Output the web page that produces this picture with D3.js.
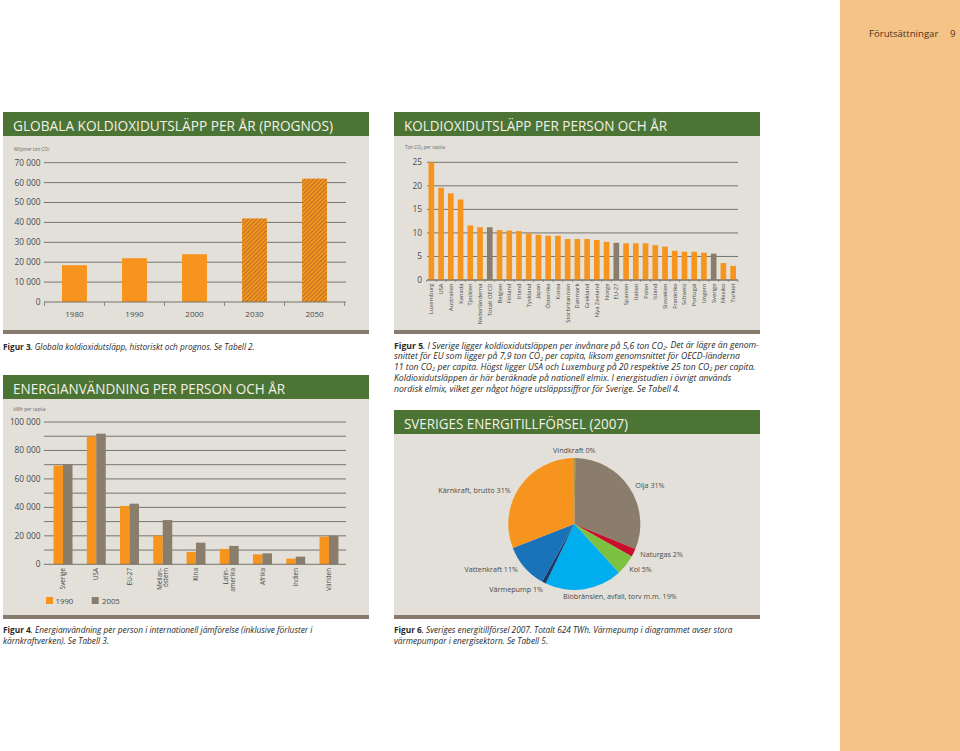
<!DOCTYPE html>
<html><head><meta charset="utf-8">
<script src="https://cdn.jsdelivr.net/npm/d3@7"></script>
<style>body{margin:0;background:#fff}svg{display:block}</style>
</head><body>
<script>
// ---------- DATA ----------
const years = ["1980", "1990", "2000", "2030", "2050"];
const globalEmissions = [18500, 22000, 24000, 42000, 62000];
const prognosYears = ["2030", "2050"];
const globalTicks = [0, 10000, 20000, 30000, 40000, 50000, 60000, 70000];

const countries = ["Luxemburg","USA","Australien","Kanada","Tjeckien","Nederländerna","Totalt OECD","Belgien","Finland","Irland","Tyskland","Japan","Österrike","Korea","Storbritannien","Danmark","Grekland","Nya Zeeland","Norge","EU-27","Spanien","Italien","Polen","Island","Slovakien","Frankrike","Schweiz","Portugal","Ungern","Sverige","Mexiko","Turkiet"];
const perCapita = [25, 19.6, 18.4, 17.1, 11.6, 11.2, 11.2, 10.6, 10.5, 10.4, 9.9, 9.6, 9.4, 9.4, 8.7, 8.7, 8.7, 8.5, 8.1, 7.9, 7.8, 7.8, 7.8, 7.4, 7.1, 6.2, 6.0, 6.0, 5.8, 5.6, 3.6, 3.0];
const highlighted = ["Totalt OECD", "EU-27", "Sverige"];
const perCapitaTicks = [0, 5, 10, 15, 20, 25];

const regions = ["Sverige","USA","EU-27","Mellan-|östern","Kina","Latin-|amerika","Afrika","Indien","Världen"];
const energy1990 = [69300, 89700, 41000, 20100, 8700, 10800, 7000, 4000, 19400];
const energy2005 = [70300, 91800, 42600, 31100, 15200, 12900, 7700, 5400, 20100];
const energySeries = ["1990", "2005"];
const energyTicks = [0, 20000, 40000, 60000, 80000, 100000];
const energyGrid = [10000, 20000, 30000, 40000, 50000, 60000, 70000, 80000, 90000, 100000];

const sources = ["Vindkraft","Olja","Naturgas","Kol","Biobränslen, avfall, torv m.m.","Värmepump","Vattenkraft","Kärnkraft, brutto"];
const shares = [0.3, 31, 2, 5, 19, 1, 11, 31];
const shareLabels = ["0%","31%","2%","5%","19%","1%","11%","31%"];

// ---------- STYLE ----------
const FONT = "'Open Sans', 'Noto Sans', sans-serif";
const GREEN = "#4b7435", PANEL = "#e3e0d9", BAR = "#867b6d";
const ORANGE = "#f7941d", TAUPE = "#8b7d6c", GRID = "#76746c", TXT = "#4a4a4a";
const fmt = d => d3.format(",")(d).replace(/,/g, " ");

const svg = d3.select("body").append("svg").attr("width", 960).attr("height", 751)
  .attr("font-family", FONT);
svg.append("rect").attr("x", 840).attr("y", 0).attr("width", 120).attr("height", 751).attr("fill", "#f6c386");
svg.append("text").attr("x", 869).attr("y", 37).attr("font-size", 9.6).attr("fill", "#4a3320").text("Förutsättningar");
svg.append("text").attr("x", 950).attr("y", 37).attr("font-size", 9.6).attr("fill", "#4a3320").text("9");

const defs = svg.append("defs");
const pat = defs.append("pattern").attr("id", "hatch").attr("patternUnits", "userSpaceOnUse")
  .attr("width", 3).attr("height", 3).attr("patternTransform", "rotate(45)");
pat.append("rect").attr("width", 3).attr("height", 3).attr("fill", ORANGE);
pat.append("line").attr("x1", 0.5).attr("y1", 0).attr("x2", 0.5).attr("y2", 3).attr("stroke", "#7a5530").attr("stroke-width", 0.55);

function panel(x, y, w, bottom, title, titleW) {
  svg.append("rect").attr("x", x).attr("y", y).attr("width", w).attr("height", 24).attr("fill", GREEN);
  svg.append("rect").attr("x", x).attr("y", y + 24).attr("width", w).attr("height", bottom - y - 24).attr("fill", PANEL);
  svg.append("rect").attr("x", x).attr("y", bottom).attr("width", w).attr("height", 4).attr("fill", BAR);
  svg.append("text").attr("x", x + 10).attr("y", y + 18.5).attr("font-size", 14.5).attr("fill", "#f4f1e8")
    .attr("textLength", titleW).attr("lengthAdjust", "spacingAndGlyphs").text(title);
}

function richText(t, str, first) {
  let rest = str;
  if (first) {
    const m = str.match(/^(Figur \d)/);
    if (m) { t.append("tspan").attr("font-weight", "bold").text(m[1]); rest = str.slice(m[1].length); }
  }
  const style = first !== null ? "italic" : "normal";
  const parts = rest.split("₂");
  parts.forEach((p, i) => {
    const sp = t.append("tspan").attr("font-style", style).text(p);
    if (i > 0) sp.attr("dy", "-0.15em");
    if (i < parts.length - 1) t.append("tspan").attr("font-size", "65%").attr("dy", "0.23em")
      .attr("font-style", style).text("2");
  });
}

function caption(x, y0, lh, lines, targetW) {
  const texts = lines.map((line, i) => {
    const t = svg.append("text").attr("x", x).attr("y", y0 + i * lh).attr("font-size", 8).attr("fill", "#2a2a2a");
    richText(t, line, i === 0);
    return t;
  });
  const w = texts[0].node().getComputedTextLength();
  const fs = 8 * targetW / w;
  texts.forEach(t => t.attr("font-size", fs));
}

// ---------- PANEL 1 ----------
panel(3, 112, 366, 330, "GLOBALA KOLDIOXIDUTSLÄPP PER ÅR (PROGNOS)", 320);
{
  const y = d3.scaleLinear().domain([0, 70000]).range([302, 162.7]);
  const x = d3.scaleBand().domain(years).range([44, 345]).paddingInner(0.585).paddingOuter(0.3);
  const g = svg.append("g");
  g.selectAll("line.grid").data(globalTicks.slice(1)).join("line")
    .attr("x1", 44).attr("x2", 346).attr("y1", d => y(d)).attr("y2", d => y(d))
    .attr("stroke", GRID).attr("stroke-width", 1);
  g.selectAll("text.yl").data(globalTicks).join("text")
    .attr("x", 40.5).attr("y", d => y(d)).attr("dy", "0.35em").attr("text-anchor", "end")
    .attr("font-size", 8.3).attr("fill", TXT).text(fmt);
  g.selectAll("rect.bar").data(years).join("rect")
    .attr("x", d => x(d)).attr("width", x.bandwidth())
    .attr("y", (d, i) => y(globalEmissions[i])).attr("height", (d, i) => y(0) - y(globalEmissions[i]))
    .attr("fill", d => prognosYears.includes(d) ? "url(#hatch)" : ORANGE);
  g.append("line").attr("x1", 44).attr("x2", 346).attr("y1", y(0)).attr("y2", y(0)).attr("stroke", GRID).attr("stroke-width", 1);
  const bounds = years.map(d => x(d) - x.step() * x.paddingInner() / 2).concat([x(years[years.length - 1]) + x.bandwidth() + x.step() * x.paddingInner() / 2]);
  g.selectAll("line.tk").data(bounds).join("line")
    .attr("x1", d => d).attr("x2", d => d).attr("y1", y(0)).attr("y2", y(0) + 4).attr("stroke", GRID).attr("stroke-width", 0.8);
  g.selectAll("text.xl").data(years).join("text")
    .attr("x", d => x(d) + x.bandwidth() / 2).attr("y", 316.5).attr("text-anchor", "middle")
    .attr("font-size", 8).attr("fill", TXT).text(d => d);
  const u = svg.append("text").attr("x", 14).attr("y", 150.5).attr("font-size", 4.6).attr("fill", "#666");
  richText(u, "Miljoner ton CO₂", null);
}

// ---------- PANEL 2 ----------
panel(394, 112, 366, 330, "KOLDIOXIDUTSLÄPP PER PERSON OCH ÅR", 263);
{
  const y = d3.scaleLinear().domain([0, 25]).range([280, 162.3]);
  const x = d3.scaleBand().domain(countries).range([426.5, 738]).paddingInner(0.42).paddingOuter(0.21);
  const g = svg.append("g");
  g.selectAll("line.grid").data(perCapitaTicks).join("line")
    .attr("x1", 427).attr("x2", 738).attr("y1", d => y(d)).attr("y2", d => y(d))
    .attr("stroke", GRID).attr("stroke-width", 1);
  g.selectAll("text.yl").data(perCapitaTicks).join("text")
    .attr("x", 422).attr("y", d => y(d)).attr("dy", "0.35em").attr("text-anchor", "end")
    .attr("font-size", 8.3).attr("fill", TXT).text(d => d);
  g.selectAll("rect.bar").data(countries).join("rect")
    .attr("x", d => x(d)).attr("width", x.bandwidth())
    .attr("y", (d, i) => y(perCapita[i])).attr("height", (d, i) => y(0) - y(perCapita[i]))
    .attr("fill", d => highlighted.includes(d) ? TAUPE : ORANGE);
  g.append("line").attr("x1", 427).attr("x2", 738).attr("y1", y(0)).attr("y2", y(0)).attr("stroke", GRID).attr("stroke-width", 1);
  const [r0] = x.range();
  g.selectAll("line.tk").data(d3.range(countries.length + 1)).join("line")
    .attr("x1", i => r0 + x.step() * i).attr("x2", i => r0 + x.step() * i)
    .attr("y1", y(0)).attr("y2", y(0) + 2).attr("stroke", GRID).attr("stroke-width", 0.7);
  g.selectAll("text.xl").data(countries).join("text")
    .attr("transform", d => `translate(${x(d) + x.bandwidth() / 2},283.5) rotate(-90)`)
    .attr("dy", "0.35em").attr("text-anchor", "end")
    .attr("font-size", 5.8).attr("fill", TXT).text(d => d);
  const u = svg.append("text").attr("x", 405).attr("y", 149).attr("font-size", 4.6).attr("fill", "#666");
  richText(u, "Ton CO₂ per capita", null);
}

// ---------- PANEL 3 ----------
panel(3, 375, 366, 615, "ENERGIANVÄNDNING PER PERSON OCH ÅR", 272);
{
  const y = d3.scaleLinear().domain([0, 100000]).range([564.3, 422]);
  const x = d3.scaleBand().domain(regions).range([46.4, 345.6]).paddingInner(0.43).paddingOuter(0.215);
  const xs = d3.scaleBand().domain(energySeries).range([0, x.bandwidth()]);
  const g = svg.append("g");
  g.selectAll("line.grid").data(energyGrid).join("line")
    .attr("x1", 44).attr("x2", 346).attr("y1", d => y(d)).attr("y2", d => y(d))
    .attr("stroke", GRID).attr("stroke-width", 1);
  g.selectAll("text.yl").data(energyTicks).join("text")
    .attr("x", 40.5).attr("y", d => y(d)).attr("dy", "0.35em").attr("text-anchor", "end")
    .attr("font-size", 8.3).attr("fill", TXT).text(fmt);
  const vals = { "1990": energy1990, "2005": energy2005 };
  energySeries.forEach(s => {
    g.selectAll(null).data(regions).join("rect")
      .attr("x", d => x(d) + xs(s)).attr("width", xs.bandwidth())
      .attr("y", (d, i) => y(vals[s][i])).attr("height", (d, i) => y(0) - y(vals[s][i]))
      .attr("fill", s === "1990" ? ORANGE : TAUPE);
  });
  g.append("line").attr("x1", 44).attr("x2", 346).attr("y1", y(0)).attr("y2", y(0)).attr("stroke", GRID).attr("stroke-width", 1);
  regions.forEach(r => {
    const lines = r.split("|");
    const t = g.append("text")
      .attr("transform", `translate(${x(r) + x.bandwidth() / 2},568) rotate(-90)`)
      .attr("text-anchor", "end").attr("font-size", 6.3).attr("fill", TXT);
    lines.forEach((l, i) => {
      t.append("tspan").attr("x", 0)
        .attr("dy", i === 0 ? (lines.length === 1 ? "0.35em" : "-0.2em") : "1.1em").text(l);
    });
  });
  const lg = svg.append("g");
  energySeries.forEach((s, i) => {
    lg.append("rect").attr("x", 46 + i * 45.7).attr("y", 597).attr("width", 7).attr("height", 7)
      .attr("fill", s === "1990" ? ORANGE : TAUPE);
    lg.append("text").attr("x", 55.5 + i * 46.5).attr("y", 604).attr("font-size", 7.8).attr("fill", TXT).text(s);
  });
  svg.append("text").attr("x", 13.5).attr("y", 410.5).attr("font-size", 4.6).attr("fill", "#666").text("kWh per capita");
}

// ---------- PANEL 4 ----------
panel(394, 410, 366, 615, "SVERIGES ENERGITILLFÖRSEL (2007)", 224);
{
  const colors = ["#4a7a3a", TAUPE, "#c8102e", "#7dc142", "#00aeef", "#1b3a6a", "#1a72b9", ORANGE];
  const cx = 574.3, cy = 524, r = 66;
  const pie = d3.pie().sort(null).value(d => d)(shares);
  const arc = d3.arc().innerRadius(0).outerRadius(r);
  const g = svg.append("g").attr("transform", `translate(${cx},${cy})`);
  g.selectAll("path").data(pie).join("path").attr("d", arc).attr("fill", (d, i) => colors[i]);
  const labelLayout = [
    [0, -74, "middle"], [61, -39, "start"], [66, 30.3, "start"], [55, 45.3, "start"],
    [-11.3, 72.7, "start"], [-31.3, 65.3, "end"], [-56.3, 45.3, "end"], [-63.6, -33.3, "end"]
  ];
  sources.forEach((s, i) => {
    g.append("text").attr("x", labelLayout[i][0]).attr("y", labelLayout[i][1]).attr("dy", "0.35em")
      .attr("text-anchor", labelLayout[i][2]).attr("font-size", 7.2).attr("fill", TXT)
      .text(s + " " + shareLabels[i]);
  });
}

// ---------- CAPTIONS ----------
caption(3, 349.5, 10, ["Figur 3. Globala koldioxidutsläpp, historiskt och prognos. Se Tabell 2."], 252);
caption(394, 348.5, 10.8, [
  "Figur 5. I Sverige ligger koldioxidutsläppen per invånare på 5,6 ton CO₂. Det är lägre än genom-",
  "snittet för EU som ligger på 7,9 ton CO₂ per capita, liksom genomsnittet för OECD-länderna",
  "11 ton CO₂ per capita. Högst ligger USA och Luxemburg på 20 respektive 25 ton CO₂ per capita.",
  "Koldioxidutsläppen är här beräknade på nationell elmix. I energistudien i övrigt används",
  "nordisk elmix, vilket ger något högre utsläppssiffror för Sverige. Se Tabell 4."
], 365);
caption(3, 633, 10.5, [
  "Figur 4. Energianvändning per person i internationell jämförelse (inklusive förluster i",
  "kärnkraftverken). Se Tabell 3."
], 310);
caption(394, 633, 10.5, [
  "Figur 6. Sveriges energitillförsel 2007. Totalt 624 TWh. Värmepump i diagrammet avser stora",
  "värmepumpar i energisektorn. Se Tabell 5."
], 339);
</script>
</body></html>
